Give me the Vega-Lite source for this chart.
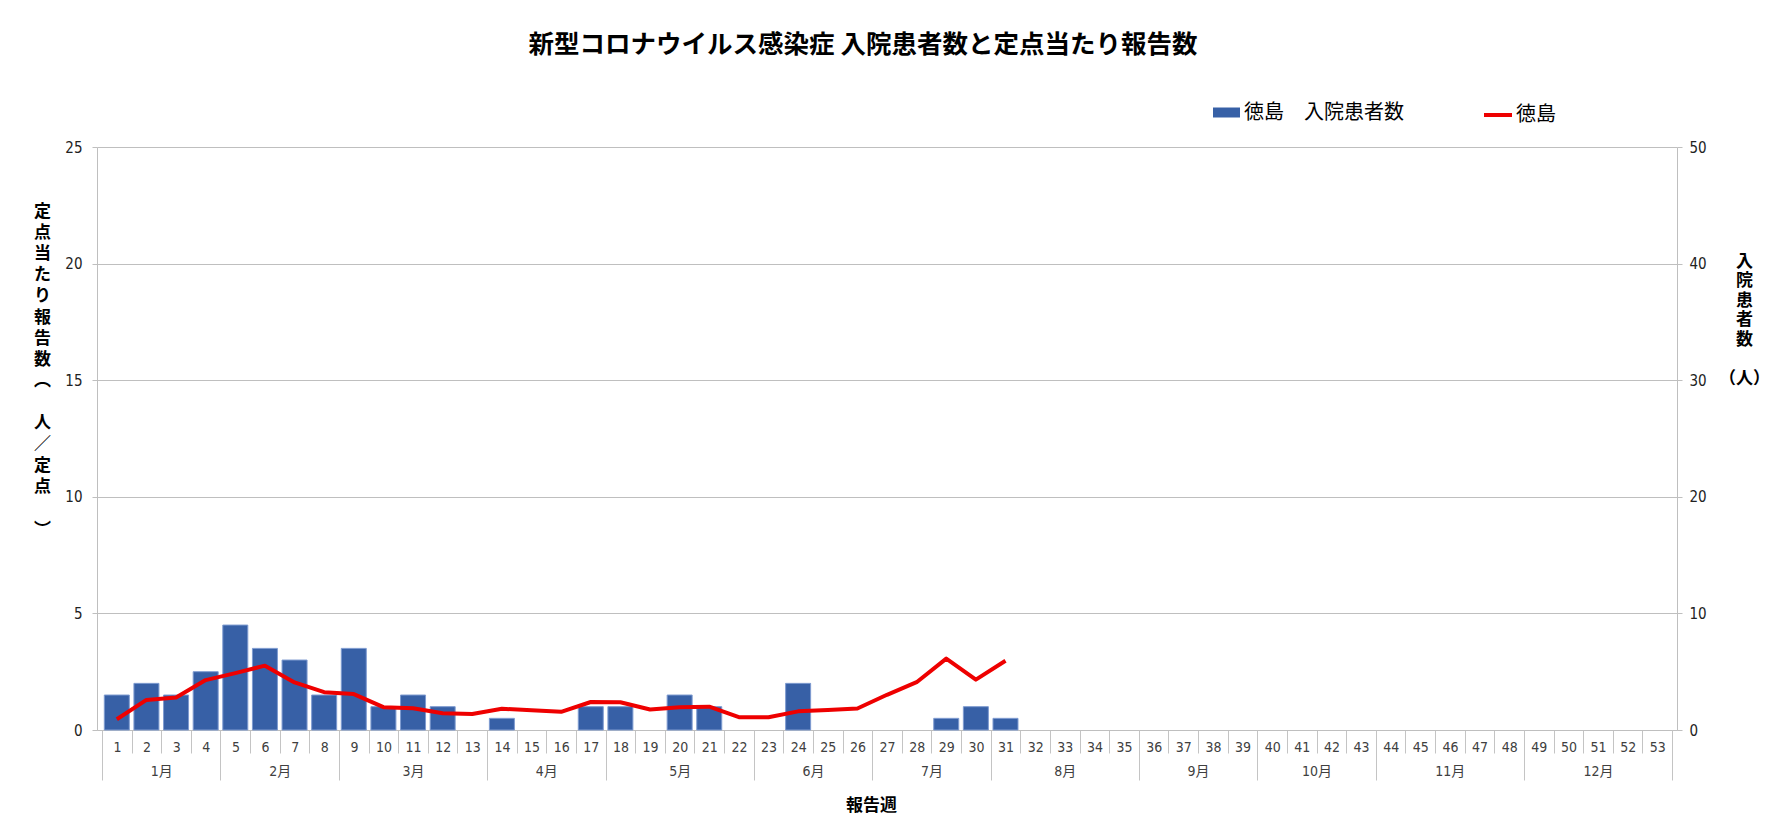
{
  "$schema": "https://vega.github.io/schema/vega-lite/v6.json",
  "description": "新型コロナウイルス感染症 入院患者数と定点当たり報告数（徳島）",
  "autosize": {"type": "none"},
  "width": 1580,
  "height": 583,
  "padding": {"left": 97, "top": 147, "right": 94, "bottom": 104},
  "background": "white",
  "title": {
    "text": "新型コロナウイルス感染症 入院患者数と定点当たり報告数",
    "font": "Noto Sans CJK JP",
    "fontSize": 25.5,
    "fontWeight": "bold",
    "color": "#000000",
    "frame": "group",
    "anchor": "middle",
    "baseline": "middle",
    "dx": -24,
    "offset": 29
  },
  "datasets": {
    "weeks": [
      {"week": 1, "patients": 3, "rate": 0.46},
      {"week": 2, "patients": 4, "rate": 1.29},
      {"week": 3, "patients": 3, "rate": 1.39},
      {"week": 4, "patients": 5, "rate": 2.14},
      {"week": 5, "patients": 9, "rate": 2.44},
      {"week": 6, "patients": 7, "rate": 2.76},
      {"week": 7, "patients": 6, "rate": 2.04},
      {"week": 8, "patients": 3, "rate": 1.62},
      {"week": 9, "patients": 7, "rate": 1.54},
      {"week": 10, "patients": 2, "rate": 0.98},
      {"week": 11, "patients": 3, "rate": 0.93},
      {"week": 12, "patients": 2, "rate": 0.72},
      {"week": 13, "patients": 0, "rate": 0.69},
      {"week": 14, "patients": 1, "rate": 0.91},
      {"week": 15, "patients": 0, "rate": 0.85},
      {"week": 16, "patients": 0, "rate": 0.78},
      {"week": 17, "patients": 2, "rate": 1.2},
      {"week": 18, "patients": 2, "rate": 1.19},
      {"week": 19, "patients": 0, "rate": 0.88},
      {"week": 20, "patients": 3, "rate": 0.98},
      {"week": 21, "patients": 2, "rate": 1.0},
      {"week": 22, "patients": 0, "rate": 0.55},
      {"week": 23, "patients": 0, "rate": 0.55},
      {"week": 24, "patients": 4, "rate": 0.8},
      {"week": 25, "patients": 0, "rate": 0.86},
      {"week": 26, "patients": 0, "rate": 0.92},
      {"week": 27, "patients": 0, "rate": 1.51},
      {"week": 28, "patients": 0, "rate": 2.05},
      {"week": 29, "patients": 1, "rate": 3.06},
      {"week": 30, "patients": 2, "rate": 2.16},
      {"week": 31, "patients": 1, "rate": 2.97}
    ],
    "months": [
      {"month": "1月", "mid": 2.5},
      {"month": "2月", "mid": 6.5},
      {"month": "3月", "mid": 11},
      {"month": "4月", "mid": 15.5},
      {"month": "5月", "mid": 20},
      {"month": "6月", "mid": 24.5},
      {"month": "7月", "mid": 28.5},
      {"month": "8月", "mid": 33},
      {"month": "9月", "mid": 37.5},
      {"month": "10月", "mid": 41.5},
      {"month": "11月", "mid": 46},
      {"month": "12月", "mid": 51}
    ]
  },
  "layer": [
    {
      "data": {"name": "weeks"},
      "transform": [{"filter": "datum.patients > 0"}],
      "mark": {"type": "bar", "width": 25, "stroke": "#7E9BD0", "strokeWidth": 1},
      "encoding": {
        "x": {
          "field": "week",
          "type": "quantitative",
          "scale": {"domain": [0.5, 53.5], "nice": false, "zero": false},
          "axis": {
            "orient": "bottom",
            "values": [0.5, 1.5, 2.5, 3.5, 4.5, 5.5, 6.5, 7.5, 8.5, 9.5, 10.5, 11.5, 12.5, 13.5, 14.5, 15.5, 16.5, 17.5, 18.5, 19.5, 20.5, 21.5, 22.5, 23.5, 24.5, 25.5, 26.5, 27.5, 28.5, 29.5, 30.5, 31.5, 32.5, 33.5, 34.5, 35.5, 36.5, 37.5, 38.5, 39.5, 40.5, 41.5, 42.5, 43.5, 44.5, 45.5, 46.5, 47.5, 48.5, 49.5, 50.5, 51.5, 52.5],
            "labelExpr": "format(datum.value + 0.5, 'd')",
            "labelOffset": 14.9,
            "labelPadding": -6,
            "labelBaseline": "middle",
            "labelOverlap": false,
            "labelFlush": false,
            "labelBound": false,
            "labelFont": "Liberation Sans Narrow, DejaVu Sans Condensed, Noto Sans CJK JP",
            "labelFontSize": 14,
            "labelColor": "#404040",
            "tickSize": 23,
            "tickColor": "#C4C4C4",
            "domainColor": "#BFBFBF",
            "grid": false,
            "title": "報告週",
            "titleFont": "Noto Sans CJK JP",
            "titleFontSize": 17,
            "titleFontWeight": "bold",
            "titleColor": "#000000",
            "titleX": 774,
            "titleY": 75,
            "titleBaseline": "middle"
          }
        },
        "y": {
          "field": "patients",
          "type": "quantitative",
          "scale": {"domain": [0, 50], "nice": false},
          "axis": {
            "orient": "right",
            "values": [0, 10, 20, 30, 40, 50],
            "grid": false,
            "tickSize": 5,
            "tickColor": "#BFBFBF",
            "domainColor": "#BFBFBF",
            "labelPadding": 7,
            "labelFont": "Liberation Sans Narrow, DejaVu Sans Condensed, Noto Sans CJK JP",
            "labelFontSize": 15,
            "labelColor": "#222222",
            "title": ["入", "院", "患", "者", "数", "ㅤ", "（人）"],
            "titleAngle": 0,
            "titleFont": "Noto Sans CJK JP",
            "titleFontSize": 17,
            "titleFontWeight": "bold",
            "titleColor": "#000000",
            "titleLineHeight": 19.5,
            "titleAlign": "center",
            "titleBaseline": "top",
            "titleX": 67,
            "titleY": 106
          }
        },
        "fill": {
          "datum": "徳島　入院患者数",
          "type": "nominal",
          "scale": {"range": ["#3760A6"]},
          "legend": {
            "orient": "none",
            "legendX": 1116,
            "legendY": -48,
            "title": null,
            "padding": 0,
            "symbolType": "M-1,-0.37H1V0.37H-1Z",
            "symbolSize": 729,
            "symbolStrokeWidth": 0,
            "labelOffset": 4,
            "labelLimit": 400,
            "labelFont": "Noto Sans CJK JP",
            "labelFontSize": 20,
            "labelColor": "#000000"
          }
        }
      }
    },
    {
      "data": {"name": "weeks"},
      "mark": {"type": "line", "strokeWidth": 4, "strokeJoin": "round"},
      "encoding": {
        "x": {
          "field": "week",
          "type": "quantitative",
          "scale": {"domain": [0.5, 53.5], "nice": false, "zero": false},
          "axis": {
            "orient": "bottom",
            "values": [0.5, 4.5, 8.5, 13.5, 17.5, 22.5, 26.5, 30.5, 35.5, 39.5, 43.5, 48.5, 53.5],
            "labels": false,
            "domain": false,
            "grid": false,
            "tickSize": 50,
            "tickColor": "#C4C4C4",
            "title": null
          }
        },
        "y": {
          "field": "rate",
          "type": "quantitative",
          "scale": {"domain": [0, 25], "nice": false},
          "axis": {
            "orient": "left",
            "values": [0, 5, 10, 15, 20, 25],
            "grid": true,
            "gridColor": "#BFBFBF",
            "tickSize": 5,
            "tickColor": "#BFBFBF",
            "domainColor": "#BFBFBF",
            "labelPadding": 10,
            "labelFont": "Liberation Sans Narrow, DejaVu Sans Condensed, Noto Sans CJK JP",
            "labelFontSize": 15,
            "labelColor": "#222222",
            "title": ["定", "点", "当", "た", "り", "報", "告", "数", "︵", "ㅤ", "人", "／", "定", "点", "ㅤ", "︶"],
            "titleAngle": 0,
            "titleFont": "Noto Sans CJK JP",
            "titleFontSize": 17,
            "titleFontWeight": "bold",
            "titleColor": "#000000",
            "titleLineHeight": 21.2,
            "titleAlign": "center",
            "titleBaseline": "top",
            "titleX": -55,
            "titleY": 56
          }
        },
        "stroke": {
          "datum": "徳島",
          "type": "nominal",
          "scale": {"range": ["#EE0000"]},
          "legend": {
            "orient": "none",
            "legendX": 1385,
            "legendY": -48,
            "title": null,
            "padding": 0,
            "symbolType": "stroke",
            "symbolSize": 784,
            "symbolStrokeWidth": 4,
            "labelOffset": 2,
            "labelLimit": 400,
            "labelFont": "Noto Sans CJK JP",
            "labelFontSize": 20,
            "labelColor": "#000000"
          }
        }
      }
    },
    {
      "data": {"name": "months"},
      "mark": {"type": "point", "opacity": 0},
      "encoding": {
        "x": {
          "field": "mid",
          "type": "quantitative",
          "scale": {"domain": [0.5, 53.5], "nice": false, "zero": false},
          "axis": {
            "orient": "bottom",
            "values": [2.5, 6.5, 11, 15.5, 20, 24.5, 28.5, 33, 37.5, 41.5, 46, 51],
            "labelExpr": "['1月','2月','3月','4月','5月','6月','7月','8月','9月','10月','11月','12月'][indexof([2.5, 6.5, 11, 15.5, 20, 24.5, 28.5, 33, 37.5, 41.5, 46, 51], datum.value)]",
            "ticks": false,
            "domain": false,
            "grid": false,
            "labelPadding": 41,
            "labelBaseline": "middle",
            "labelOverlap": false,
            "labelFlush": false,
            "labelFont": "Liberation Sans Narrow, DejaVu Sans Condensed, Noto Sans CJK JP",
            "labelFontSize": 14,
            "labelColor": "#404040",
            "title": null
          }
        }
      }
    }
  ],
  "resolve": {
    "scale": {"y": "independent"},
    "axis": {"x": "independent", "y": "independent"}
  },
  "config": {
    "view": {"stroke": null}
  }
}
